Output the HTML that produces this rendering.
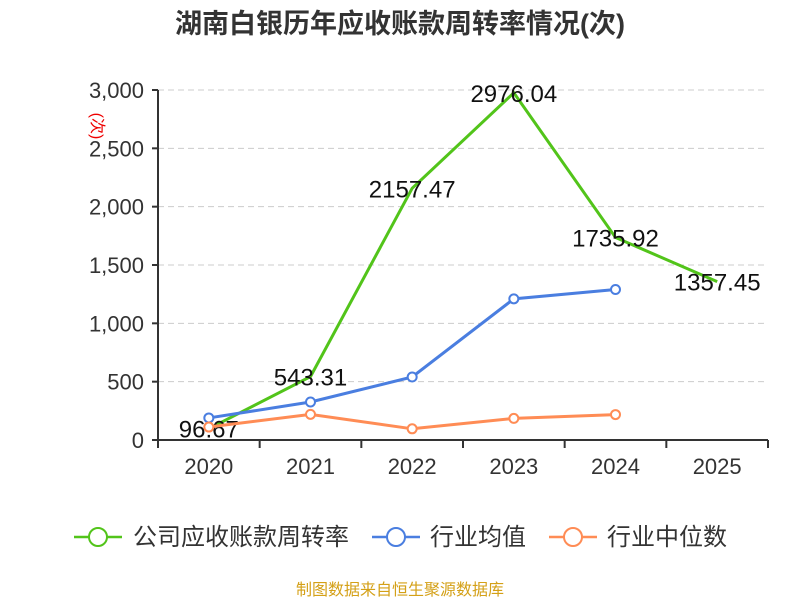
<!DOCTYPE html>
<html><head><meta charset="utf-8"><style>
body{margin:0;background:#fff;font-family:"Liberation Sans","Noto Sans CJK SC",sans-serif;}
svg text{font-family:"Liberation Sans","Noto Sans CJK SC",sans-serif;}
</style></head><body>
<svg id="c" width="800" height="600">
<text x="400" y="33" text-anchor="middle" font-size="27" font-weight="bold" fill="#333">湖南白银历年应收账款周转率情况(次)</text>
<text transform="translate(92,126) rotate(90)" text-anchor="middle" font-size="16" fill="#e00">(次)</text>
<g id="grid"></g><g id="axes"></g><g id="series"></g>
<g>
<g><line x1="74" y1="537" x2="122" y2="537" stroke="#52c41a" stroke-width="2.5"/><circle cx="98" cy="537" r="9" fill="#fff" stroke="#52c41a" stroke-width="2"/><text x="133" y="545" font-size="24" fill="#333">公司应收账款周转率</text></g>
<g><line x1="372" y1="537" x2="420" y2="537" stroke="#4a7ee0" stroke-width="2.5"/><circle cx="396" cy="537" r="9" fill="#fff" stroke="#4a7ee0" stroke-width="2"/><text x="430" y="545" font-size="24" fill="#333">行业均值</text></g>
<g><line x1="549" y1="537" x2="597" y2="537" stroke="#ff8c55" stroke-width="2.5"/><circle cx="573" cy="537" r="9" fill="#fff" stroke="#ff8c55" stroke-width="2"/><text x="607" y="545" font-size="24" fill="#333">行业中位数</text></g>
</g>
<text x="400" y="595" text-anchor="middle" font-size="16" fill="#d4a017">制图数据来自恒生聚源数据库</text>
</svg>
<script>
const categories=["2020","2021","2022","2023","2024","2025"];
const company=[96.67,543.31,2157.47,2976.04,1735.92,1357.45];
const industryMean=[189,326,540,1210,1290];
const industryMedian=[111,220,96,185,218];
const yTicks=[0,500,1000,1500,2000,2500,3000];
const yTickLabels=["0","500","1,000","1,500","2,000","2,500","3,000"];
const NS="http://www.w3.org/2000/svg";
const x0=158,x1=768,y0=440,y1=90,yMax=3000;
const bw=(x1-x0)/categories.length;
const X=i=>x0+bw*(i+0.5);
const Y=v=>y0-(v/yMax)*(y0-y1);
function mk(p,t,a){const e=document.createElementNS(NS,t);for(const k in a)e.setAttribute(k,a[k]);p.appendChild(e);return e;}
const grid=document.getElementById('grid'),axes=document.getElementById('axes'),ser=document.getElementById('series');
yTicks.forEach((v,i)=>{
 if(v>0){const g=mk(grid,'line',{x1:x0,x2:x1,y1:Y(v),y2:Y(v),stroke:'#ccc','stroke-dasharray':'6,4'});
 
 }
 mk(axes,'line',{x1:x0-6,x2:x0,y1:Y(v),y2:Y(v),stroke:'#333','stroke-width':2});
 const t=mk(axes,'text',{x:x0-14,y:Y(v)+8,'text-anchor':'end','font-size':22,fill:'#333'});t.textContent=yTickLabels[i];
 
 
});
mk(axes,'line',{x1:x0,x2:x0,y1:y1,y2:y0,stroke:'#333','stroke-width':2});
mk(axes,'line',{x1:x0,x2:x1,y1:y0,y2:y0,stroke:'#333','stroke-width':2});
for(let i=0;i<=categories.length;i++)mk(axes,'line',{x1:x0+bw*i,x2:x0+bw*i,y1:y0,y2:y0+8,stroke:'#333','stroke-width':2});
categories.forEach((c,i)=>{const t=mk(axes,'text',{x:X(i),y:474,'text-anchor':'middle','font-size':22,fill:'#333'});t.textContent=c;
 
 });
function line(vals,color,name,markers){
 const g=mk(ser,'g',{});
 
 
 mk(g,'polyline',{points:vals.map((v,i)=>X(i)+','+Y(v)).join(' '),fill:'none',stroke:color,'stroke-width':3});
 if(markers)vals.forEach((v,i)=>{const c=mk(g,'circle',{cx:X(i),cy:Y(v),r:4.5,fill:'#fff',stroke:color,'stroke-width':2});
  
  });
 return g;
}
const gc=line(company,'#52c41a','company-series',false);
line(industryMean,'#4a7ee0','industry-mean-series',true);
line(industryMedian,'#ff8c55','industry-median-series',true);
company.forEach((v,i)=>{const t=mk(gc,'text',{x:X(i),y:Y(v)+9,'text-anchor':'middle','font-size':24,fill:'#111'});t.textContent=v.toFixed(2);
 
 });
</script>
</body></html>
